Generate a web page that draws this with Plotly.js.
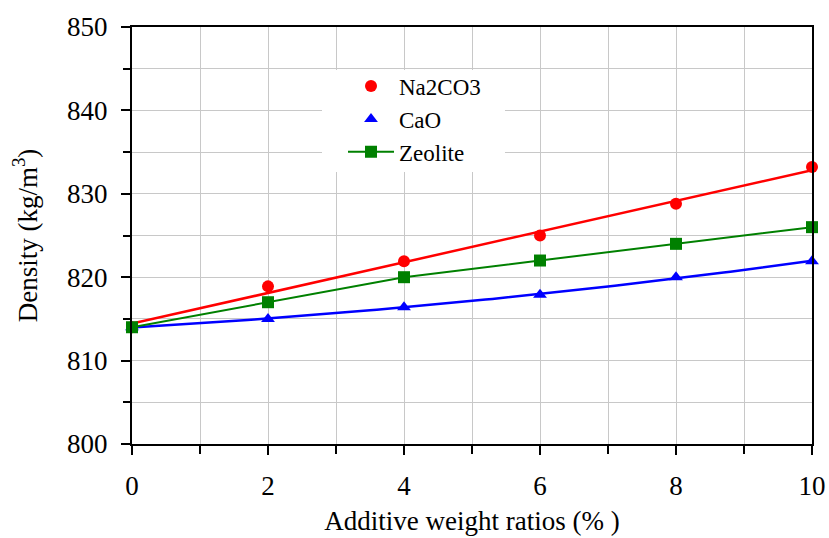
<!DOCTYPE html>
<html>
<head>
<meta charset="utf-8">
<script src="https://cdn.plot.ly/plotly-3.0.1.min.js"></script>
<style>
  html, body { margin: 0; padding: 0; background: #fff; }
  #chart { width: 829px; height: 538px; }
</style>
</head>
<body>
<div id="chart"></div>
<script>
// Additive weight ratio (%) and measured density (kg/m3) for each additive
const ratios = [0, 2, 4, 6, 8, 10];
const na2co3 = [814, 818.9, 821.9, 825, 828.8, 833.2];
const cao = [814, 815, 816.4, 817.9, 820, 821.9];
const zeolite = [814, 817, 820, 822, 824, 826];

const seriesNames = ['Na2CO3', 'CaO', 'Zeolite'];
const seriesColors = ['#ff0000', '#0000ff', '#008000'];

// Least-squares polynomial fit (normal equations, Gaussian elimination)
function polyfit(xs, ys, deg) {
  const n = deg + 1;
  const A = [];
  for (let r = 0; r < n; r++) {
    A.push([]);
    for (let c = 0; c < n; c++) {
      let s = 0;
      xs.forEach(x => { s += Math.pow(x, r + c); });
      A[r].push(s);
    }
    let b = 0;
    xs.forEach((x, i) => { b += ys[i] * Math.pow(x, r); });
    A[r].push(b);
  }
  for (let i = 0; i < n; i++) {
    let p = i;
    for (let k = i + 1; k < n; k++) if (Math.abs(A[k][i]) > Math.abs(A[p][i])) p = k;
    [A[i], A[p]] = [A[p], A[i]];
    for (let k = i + 1; k < n; k++) {
      const f = A[k][i] / A[i][i];
      for (let c = i; c <= n; c++) A[k][c] -= f * A[i][c];
    }
  }
  const coef = new Array(n).fill(0);
  for (let i = n - 1; i >= 0; i--) {
    let s = A[i][n];
    for (let c = i + 1; c < n; c++) s -= A[i][c] * coef[c];
    coef[i] = s / A[i][i];
  }
  return coef;
}

function trend(xs, ys, deg) {
  const coef = polyfit(xs, ys, deg);
  const tx = [], ty = [];
  const lo = xs[0], hi = xs[xs.length - 1];
  for (let i = 0; i <= 100; i++) {
    const x = lo + (hi - lo) * i / 100;
    tx.push(x);
    ty.push(coef.reduce((acc, c, k) => acc + c * Math.pow(x, k), 0));
  }
  return { x: tx, y: ty };
}

const naFit = trend(ratios, na2co3, 1);
const caFit = trend(ratios, cao, 2);

const traces = [
  { x: naFit.x, y: naFit.y, mode: 'lines', line: { color: seriesColors[0], width: 2.5 },
    showlegend: false, hoverinfo: 'skip' },
  { x: caFit.x, y: caFit.y, mode: 'lines', line: { color: seriesColors[1], width: 2.5 },
    showlegend: false, hoverinfo: 'skip' },
  { x: ratios, y: na2co3, name: seriesNames[0], mode: 'markers', cliponaxis: false,
    marker: { color: seriesColors[0], symbol: 'circle', size: 12 } },
  { x: ratios, y: cao, name: seriesNames[1], mode: 'markers', cliponaxis: false,
    marker: { color: seriesColors[1], symbol: 'triangle-up', size: 12 } },
  { x: ratios, y: zeolite, name: seriesNames[2], mode: 'lines+markers', cliponaxis: false,
    line: { color: seriesColors[2], width: 2 },
    marker: { color: seriesColors[2], symbol: 'square', size: 12 } }
];

const serif = '"Liberation Serif", "Times New Roman", Times, serif';

const layout = {
  width: 829, height: 538,
  margin: { l: 132, r: 17, t: 27, b: 94 },
  paper_bgcolor: '#fff', plot_bgcolor: '#fff',
  font: { family: serif, size: 27, color: '#000' },
  showlegend: true,
  xaxis: {
    range: [0, 10], dtick: 2, tick0: 0,
    showline: true, linecolor: '#000', linewidth: 2, mirror: true,
    ticks: 'outside', ticklen: 9, tickwidth: 2, tickcolor: '#000',
    showgrid: true, gridcolor: '#c8c8c8', gridwidth: 1,
    zeroline: false, fixedrange: true,
    tickfont: { family: serif, size: 27, color: '#000' },
    ticklabelstandoff: 8,
    minor: { dtick: 1, ticklen: 8, tickwidth: 2, tickcolor: '#000', showgrid: true, gridcolor: '#c8c8c8', gridwidth: 1 },
    title: { text: 'Additive weight ratios (% )', font: { family: serif, size: 27, color: '#000' }, standoff: 11 }
  },
  yaxis: {
    range: [800, 850], dtick: 10, tick0: 800,
    showline: true, linecolor: '#000', linewidth: 2, mirror: true,
    ticks: 'outside', ticklen: 9, tickwidth: 2, tickcolor: '#000',
    showgrid: true, gridcolor: '#c8c8c8', gridwidth: 1,
    zeroline: false, fixedrange: true,
    tickfont: { family: serif, size: 27, color: '#000' },
    ticklabelstandoff: 8,
    minor: { dtick: 5, ticklen: 7, tickwidth: 2, tickcolor: '#000', showgrid: true, gridcolor: '#c8c8c8', gridwidth: 1 },
    title: { text: 'Density (kg/m<sup>3</sup>)', font: { family: serif, size: 27, color: '#000' }, standoff: 22 }
  },
  legend: {
    x: 0.3103, y: 0.91, xanchor: 'left', yanchor: 'top',
    itemwidth: 46,
    bgcolor: 'rgba(0,0,0,0)', borderwidth: 0,
    font: { family: serif, size: 23, color: '#000' }
  },
  shapes: [{
    type: 'rect', xref: 'paper', yref: 'paper',
    x0: 0.2794, x1: 0.5485, y0: 0.6523, y1: 0.8969,
    fillcolor: '#fff', line: { width: 0 }, layer: 'above'
  }]
};

Plotly.newPlot('chart', traces, layout, { staticPlot: true, displayModeBar: false });
</script>
</body>
</html>
